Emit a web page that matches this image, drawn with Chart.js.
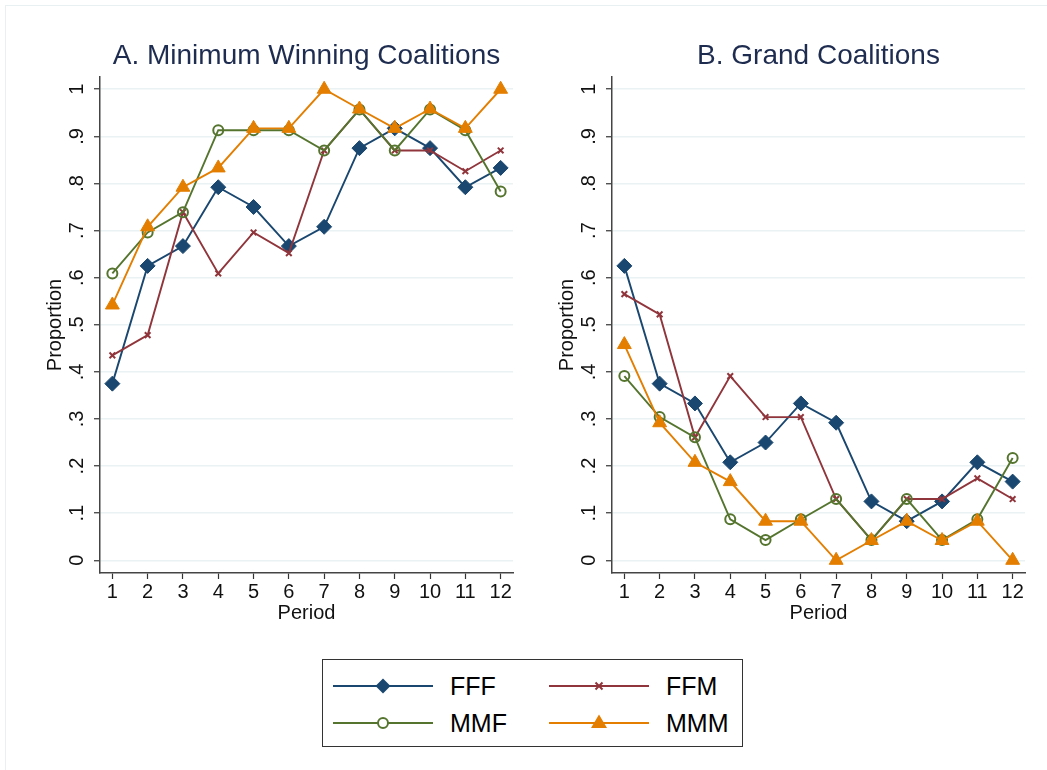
<!DOCTYPE html>
<html>
<head>
<meta charset="utf-8">
<script src="https://cdn.jsdelivr.net/npm/chart.js@4/dist/chart.umd.min.js"></script>
<style>
  body { margin: 0; background: #fff; font-family: "Liberation Sans", Arial, sans-serif; }
  #page { position: relative; width: 1047px; height: 770px; overflow: hidden; }
  #frame { position: absolute; left: 5px; top: 5px; width: 1200px; height: 900px; border: 1px solid #e8f0f2; }
  .panel { position: absolute; top: 0; width: 523px; height: 640px; }
  #legend { position: absolute; left: 322px; top: 659px; width: 419px; height: 86px; border: 1.5px solid #333; background: #fff; }
  .item { position: absolute; height: 30px; }
  .item svg { position: absolute; left: 0; top: 0; }
  .item span { position: absolute; left: 117px; top: 0; font-size: 25px; line-height: 30px; color: #000; }
</style>
</head>
<body>
<div id="page">
  <div id="frame"></div>
  <div class="panel" style="left:0"><canvas id="chartA" width="523" height="640"></canvas></div>
  <div class="panel" style="left:512px"><canvas id="chartB" width="523" height="640"></canvas></div>
  <div id="legend"></div>
</div>
<script>
const periods = [1, 2, 3, 4, 5, 6, 7, 8, 9, 10, 11, 12];
const groups = ['FFF', 'FFM', 'MMF', 'MMM'];
const yTickValues = [0, 0.1, 0.2, 0.3, 0.4, 0.5, 0.6, 0.7, 0.8, 0.9, 1];
const yTickLabels = ['0', '.1', '.2', '.3', '.4', '.5', '.6', '.7', '.8', '.9', '1'];

// A. Minimum Winning Coalitions
const mwcFFF = [0.375, 0.625, 0.667, 0.792, 0.750, 0.667, 0.708, 0.875, 0.917, 0.875, 0.792, 0.833];
const mwcFFM = [0.435, 0.478, 0.739, 0.609, 0.696, 0.652, 0.870, 0.957, 0.870, 0.870, 0.826, 0.870];
const mwcMMF = [0.609, 0.696, 0.739, 0.913, 0.913, 0.913, 0.870, 0.957, 0.870, 0.957, 0.913, 0.783];
const mwcMMM = [0.542, 0.708, 0.792, 0.833, 0.917, 0.917, 1.000, 0.958, 0.917, 0.958, 0.917, 1.000];

// B. Grand Coalitions
const gcFFF = [0.625, 0.375, 0.333, 0.208, 0.250, 0.333, 0.292, 0.125, 0.083, 0.125, 0.208, 0.167];
const gcFFM = [0.565, 0.522, 0.261, 0.391, 0.304, 0.304, 0.130, 0.043, 0.130, 0.130, 0.174, 0.130];
const gcMMF = [0.391, 0.304, 0.261, 0.087, 0.043, 0.087, 0.130, 0.043, 0.130, 0.043, 0.087, 0.217];
const gcMMM = [0.458, 0.292, 0.208, 0.167, 0.083, 0.083, 0.000, 0.042, 0.083, 0.042, 0.083, 0.000];

const styles = {
  FFF: { color: '#1a476f', pointStyle: 'rectRot', radius: 7.5, fill: true, order: 3 },
  FFM: { color: '#90353b', pointStyle: 'crossRot', radius: 4, fill: false, order: 2 },
  MMF: { color: '#55752f', pointStyle: 'circle', radius: 5, fill: false, order: 1 },
  MMM: { color: '#e37e00', pointStyle: 'triangle', radius: 8, fill: true, order: 0 }
};

const fontFamily = '"Liberation Sans", Arial, sans-serif';

function makeDataset(name, values) {
  const s = styles[name];
  return {
    label: name,
    data: periods.map((p, i) => ({ x: p, y: values[i] })),
    borderColor: s.color,
    borderWidth: 1.9,
    pointStyle: s.pointStyle,
    pointRadius: s.radius,
    pointBorderColor: s.color,
    pointBackgroundColor: s.fill ? s.color : 'rgba(0,0,0,0)',
    pointBorderWidth: s.fill ? 1 : 2,
    order: s.order,
    tension: 0
  };
}

const panelText = {
  id: 'panelText',
  afterDraw(chart) {
    const ctx = chart.ctx;
    const area = chart.chartArea;
    const ys = chart.scales.y;
    ctx.save();
    ctx.fillStyle = '#1e2c50';
    ctx.font = '28px ' + fontFamily;
    ctx.textAlign = 'center';
    ctx.textBaseline = 'middle';
    ctx.fillText(chart.options.plugins.panelText.title, (area.left + area.right) / 2, 56);
    ctx.fillStyle = '#111';
    ctx.font = '20px ' + fontFamily;
    yTickValues.forEach((v, i) => {
      ctx.save();
      ctx.translate(area.left - 23, ys.getPixelForValue(v));
      ctx.rotate(-Math.PI / 2);
      ctx.fillText(yTickLabels[i], 0, 0);
      ctx.restore();
    });
    ctx.restore();
  }
};

function makeChart(id, title, sets) {
  return new Chart(document.getElementById(id), {
    type: 'line',
    data: { datasets: groups.map((g, i) => makeDataset(g, sets[i])) },
    options: {
      responsive: false,
      animation: false,
      layout: { padding: { left: 0, top: 77, right: 10, bottom: 0 } },
      plugins: {
        legend: { display: false },
        tooltip: { enabled: false },
        panelText: { title: title }
      },
      scales: {
        x: {
          type: 'linear',
          min: 0.65,
          max: 12.35,
          afterBuildTicks: s => { s.ticks = periods.map(v => ({ value: v })); },
          afterFit: s => { s.height = 67; },
          grid: { drawOnChartArea: false, tickLength: 6, tickColor: '#333', tickWidth: 1.2 },
          border: { color: '#444', width: 1.5 },
          ticks: { color: '#111', font: { size: 20, family: fontFamily }, padding: 1, maxRotation: 0 },
          title: { display: true, text: 'Period', color: '#111', font: { size: 20, family: fontFamily }, padding: { top: 0, bottom: 15 } }
        },
        y: {
          min: -0.027,
          max: 1.026,
          afterBuildTicks: s => { s.ticks = yTickValues.map(v => ({ value: v })); },
          afterFit: s => { s.width = 100; },
          grid: { color: '#eaf2f3', lineWidth: 1.5, tickLength: 6, tickColor: '#333', tickWidth: 1.2 },
          border: { color: '#444', width: 1.5 },
          ticks: { display: false },
          title: { display: true, text: 'Proportion', color: '#111', font: { size: 20, family: fontFamily }, padding: { top: 43, bottom: 0 } }
        }
      }
    },
    plugins: [panelText]
  });
}

makeChart('chartA', 'A. Minimum Winning Coalitions', [mwcFFF, mwcFFM, mwcMMF, mwcMMM]);
makeChart('chartB', 'B. Grand Coalitions', [gcFFF, gcFFM, gcMMF, gcMMM]);

// legend
const legendPos = { FFF: [10, 11], FFM: [226, 11], MMF: [10, 48], MMM: [226, 48] };
const legendEl = document.getElementById('legend');
function markerSvg(name) {
  const c = styles[name].color;
  if (name === 'FFF') return `<polygon points="50,7.5 57.5,15 50,22.5 42.5,15" fill="${c}"/>`;
  if (name === 'FFM') return `<path d="M46.5,11.5 L53.5,18.5 M53.5,11.5 L46.5,18.5" stroke="${c}" stroke-width="2"/>`;
  if (name === 'MMF') return `<circle cx="50" cy="15" r="5" fill="#fff" stroke="${c}" stroke-width="2"/>`;
  return `<polygon points="50,6.5 58,20 42,20" fill="${c}"/>`;
}
groups.forEach(g => {
  const [left, top] = legendPos[g];
  const div = document.createElement('div');
  div.className = 'item';
  div.style.left = left + 'px';
  div.style.top = top + 'px';
  div.innerHTML = `<svg width="100" height="30"><line x1="0" y1="15" x2="100" y2="15" stroke="${styles[g].color}" stroke-width="1.8"/>${markerSvg(g)}</svg><span>${g}</span>`;
  legendEl.appendChild(div);
});
</script>
</body>
</html>
